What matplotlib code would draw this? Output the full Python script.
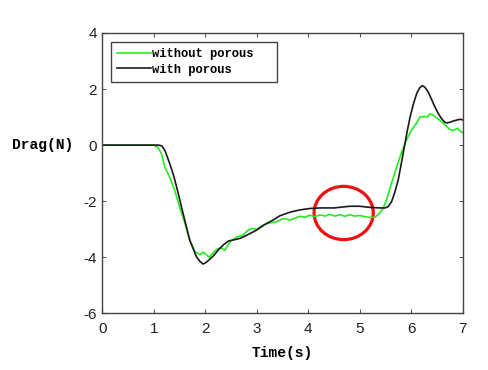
import matplotlib.pyplot as plt
from matplotlib.patches import Ellipse

plt.rcParams['font.family'] = 'Liberation Sans'
plt.rcParams['axes.unicode_minus'] = False  # マイナスはハイフンで

# 抗力の時間変化 (読み取り値)
t_without = [0, 1.0, 1.08, 1.15, 1.22, 1.31, 1.41, 1.51, 1.61, 1.70, 1.80, 1.90, 1.96, 2.02,
             2.08, 2.15, 2.22, 2.30, 2.38, 2.48, 2.61, 2.74, 2.82, 2.90, 3.00, 3.10, 3.19,
             3.30, 3.39, 3.52, 3.65, 3.75, 3.84, 3.94, 4.03, 4.13, 4.23, 4.33, 4.42, 4.52,
             4.62, 4.71, 4.81, 4.90, 5.00, 5.10, 5.20, 5.30, 5.38, 5.45, 5.52, 5.62, 5.72,
             5.81, 5.91, 6.01, 6.11, 6.17, 6.26, 6.31, 6.36, 6.42, 6.48, 6.56, 6.66, 6.75,
             6.82, 6.90, 6.95, 7.0]
drag_without = [0, 0, -0.08, -0.3, -0.8, -1.15, -1.62, -2.25, -2.8, -3.38, -3.8, -3.9, -3.82,
                -3.9, -4.0, -3.85, -3.72, -3.66, -3.75, -3.45, -3.28, -3.2, -3.05, -2.97, -3.0,
                -2.88, -2.8, -2.76, -2.73, -2.62, -2.67, -2.6, -2.54, -2.57, -2.5, -2.55, -2.49,
                -2.53, -2.47, -2.53, -2.48, -2.54, -2.48, -2.53, -2.51, -2.55, -2.58, -2.57,
                -2.45, -2.28, -1.96, -1.36, -0.77, -0.29, 0.18, 0.54, 0.8, 1.0, 1.02, 1.0, 1.11,
                1.08, 1.0, 0.88, 0.72, 0.56, 0.52, 0.6, 0.5, 0.45]

t_with = [0, 1.1, 1.16, 1.22, 1.31, 1.39, 1.46, 1.57, 1.70, 1.83, 1.90, 1.96, 2.02, 2.10, 2.16,
          2.25, 2.35, 2.45, 2.55, 2.67, 2.80, 3.00, 3.15, 3.32, 3.45, 3.65, 3.84, 4.03, 4.23,
          4.50, 4.81, 5.00, 5.20, 5.40, 5.49, 5.55, 5.62, 5.68, 5.75, 5.81, 5.88, 5.93, 5.98,
          6.05, 6.11, 6.17, 6.22, 6.27, 6.33, 6.40, 6.46, 6.53, 6.59, 6.65, 6.70, 6.76, 6.82,
          6.90, 6.96, 7.0]
drag_with = [0, 0, -0.03, -0.2, -0.65, -1.1, -1.6, -2.43, -3.39, -3.98, -4.15, -4.24, -4.18,
             -4.05, -3.95, -3.75, -3.56, -3.42, -3.38, -3.33, -3.22, -3.03, -2.84, -2.67, -2.52,
             -2.39, -2.31, -2.26, -2.24, -2.24, -2.18, -2.18, -2.22, -2.24, -2.24, -2.2, -2.02,
             -1.7, -1.24, -0.65, 0.05, 0.55, 1.0, 1.5, 1.85, 2.05, 2.12, 2.06, 1.9, 1.62, 1.37,
             1.12, 0.95, 0.82, 0.79, 0.82, 0.86, 0.9, 0.92, 0.9]

labels = ['without porous', 'with porous']
x_ticks = [0, 1, 2, 3, 4, 5, 6, 7]
y_ticks = [-6, -4, -2, 0, 2, 4]

mono = 'Liberation Mono'

fig = plt.figure(figsize=(4.89, 3.70), dpi=100)
ax = fig.add_axes([0.209, 0.153, 0.737, 0.758])

ax.plot(t_without, drag_without, color='#22ee22', linewidth=1.2, label=labels[0])
ax.plot(t_with, drag_with, color='#1a1a1a', linewidth=1.2, label=labels[1])

# 注目箇所の赤丸
ax.add_patch(Ellipse((4.69, -2.42), 1.15, 1.9, fill=False, edgecolor='#ee1111', linewidth=2.3))

ax.set_xlim(0, 7)
ax.set_ylim(-6, 4)
ax.set_xticks(x_ticks)
ax.set_yticks(y_ticks)
ax.tick_params(direction='in', length=3, width=0.8, color='#555555', top=True, right=True,
               labelsize=11, labelcolor='#222222')
ax.tick_params(axis='x', pad=6)
ax.tick_params(axis='y', pad=4)
for sp in ax.spines.values():
    sp.set_color('#444444')
    sp.set_linewidth(1.0)

ax.set_xlabel('Time(s)', fontfamily=mono, fontweight='bold', fontsize=10.5, va='center')
ax.xaxis.set_label_coords(0.5, -0.142)
ax.set_ylabel('Drag(N)', fontfamily=mono, fontweight='bold', fontsize=10.5,
              rotation=0, ha='center', va='center')
ax.yaxis.set_label_coords(-0.165, 0.6)

leg = ax.legend(loc='upper left', bbox_to_anchor=(0.024, 0.825, 0.461, 0.143), mode='expand',
                borderaxespad=0, fancybox=False, edgecolor='#444444', framealpha=1,
                prop={'family': mono, 'weight': 'bold', 'size': 8.7},
                handlelength=2.8, handletextpad=0.1, labelspacing=0.3, borderpad=0.5)
leg.get_frame().set_linewidth(1.0)

fig.savefig('out.png', dpi=100)
